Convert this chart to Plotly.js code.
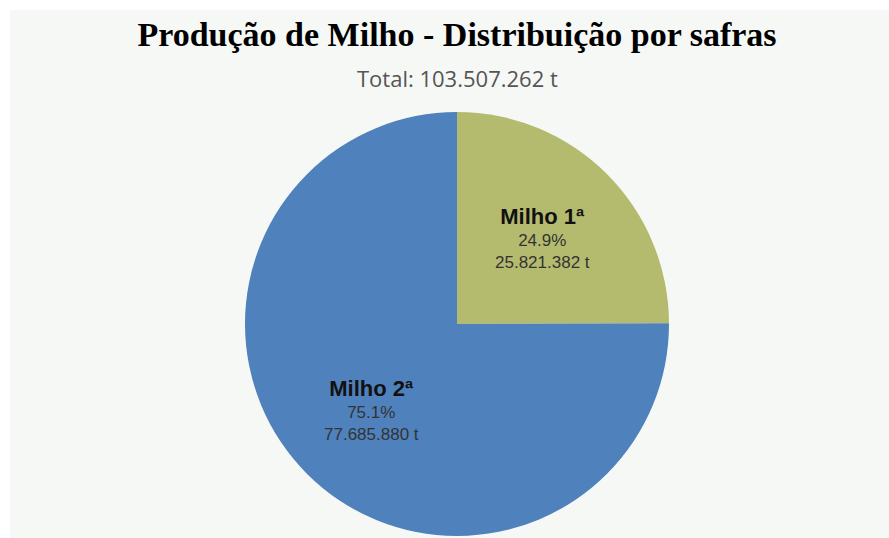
<!DOCTYPE html>
<html>
<head>
<meta charset="utf-8">
<script src="https://cdn.plot.ly/plotly-3.0.1.min.js"></script>
<style>
html,body{margin:0;padding:0;background:#ffffff;}
#chart{position:absolute;left:10px;top:10px;width:879px;height:528px;}
</style>
</head>
<body>
<div id="chart"></div>
<script>
const categories = ["Milho 1ª", "Milho 2ª"];
const values = [25821382, 77685880];
const colors = ["#b5bb6e", "#4f81bd"];
const titleText = "Produção de Milho - Distribuição por safras";

function fmt(v){ return String(v).replace(/\B(?=(\d{3})+(?!\d))/g, "."); }
const total = values.reduce((a,b)=>a+b,0);

const W = 879, H = 528, cx = 447, cy = 314, R = 212;

// label positions along each slice's bisector (clockwise from 12 o'clock)
const labelAnns = [];
let cum = 0;
values.forEach((v, i) => {
  const mid = (cum + v / 2) / total * 2 * Math.PI;
  cum += v;
  const r = 0.57 * R;
  const px = cx + r * Math.sin(mid);
  const py = cy - r * Math.cos(mid);
  labelAnns.push({
    text: "<span style='font-size:22px;font-weight:bold;color:#111111'>" + categories[i] + "</span><br>" +
          (v / total * 100).toFixed(1) + "%<br>" + fmt(v) + " t",
    xref: 'paper', yref: 'paper', x: px / W, y: 1 - py / H,
    xanchor: 'center', yanchor: 'middle', showarrow: false, align: 'center',
    font: {family: 'Liberation Sans, Arial, sans-serif', size: 17, color: '#333333'}
  });
});

Plotly.newPlot('chart', [{
  type: 'pie',
  labels: categories,
  values: values,
  sort: false,
  direction: 'clockwise',
  rotation: 0,
  marker: {colors: colors, line: {width: 0}},
  textinfo: 'none',
  hoverinfo: 'none',
  showlegend: false,
  domain: {x: [(cx-R)/W, (cx+R)/W], y: [1-(cy+R)/H, 1-(cy-R)/H]}
}], {
  width: W, height: H,
  paper_bgcolor: '#f6f8f5',
  margin: {l: 0, r: 0, t: 0, b: 0},
  title: {text: "<b>" + titleText + "</b>", font: {family: 'Liberation Serif, Times New Roman, serif', size: 34, color: '#000'}, x: cx / W, xanchor: 'center', y: 1 - 24/H, yanchor: 'middle'},
  annotations: [{
    text: "Total: " + fmt(total) + " t",
    xref: 'paper', yref: 'paper', x: cx / W, y: 1 - 68/H, xanchor: 'center', yanchor: 'middle',
    showarrow: false, font: {family: 'Open Sans, sans-serif', size: 22, color: '#555555'}
  }].concat(labelAnns)
}, {displayModeBar: false, staticPlot: true});
</script>
</body>
</html>
